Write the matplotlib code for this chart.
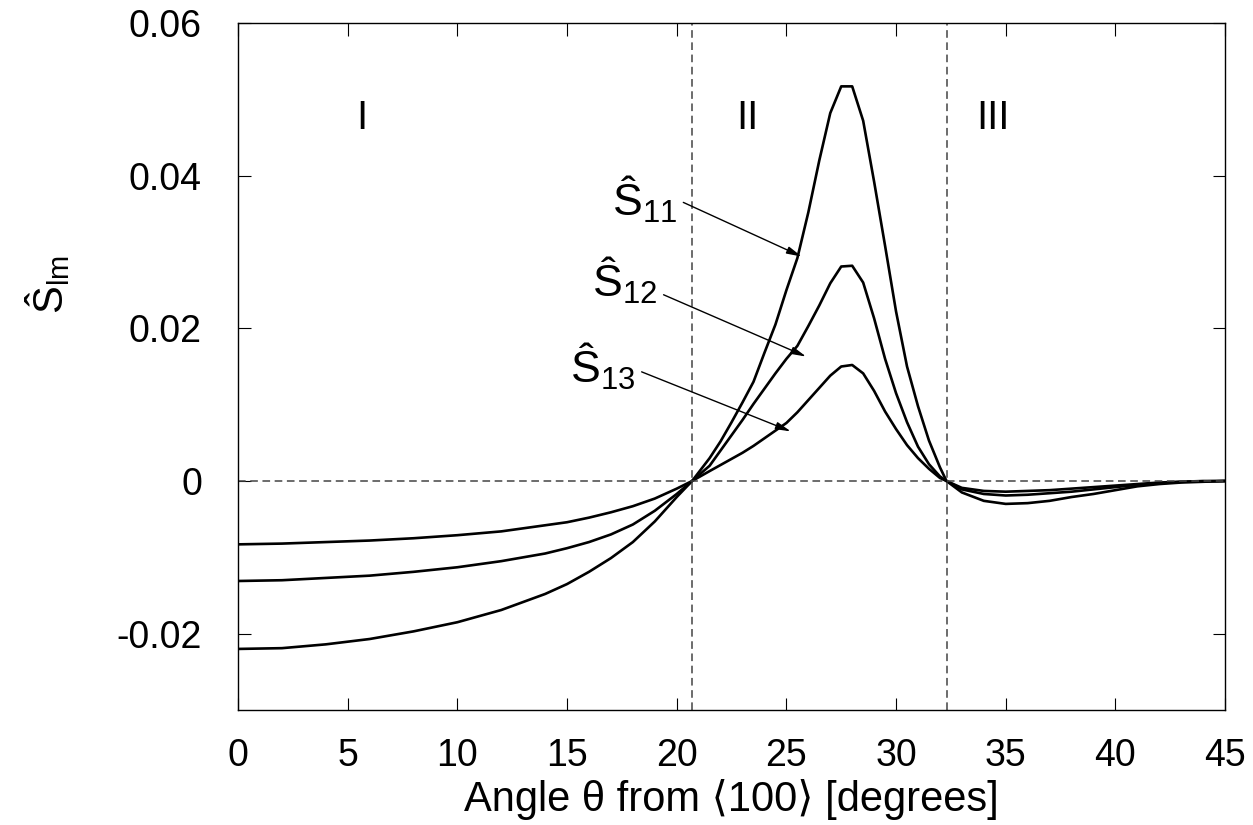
import matplotlib
matplotlib.use('Agg')
import matplotlib.pyplot as plt

plt.rcParams['font.family'] = ['Liberation Sans', 'DejaVu Sans']
plt.rcParams['mathtext.fontset'] = 'custom'
plt.rcParams['mathtext.rm'] = 'Liberation Sans'
plt.rcParams['mathtext.it'] = 'Liberation Sans'
plt.rcParams['mathtext.bf'] = 'Liberation Sans'

# angle from <100> in degrees
angle = [0, 2, 4, 6, 8, 10, 12, 14, 15, 16, 17, 18, 19, 20, 20.7,
         21.5, 22, 22.5, 23, 23.5, 24, 24.5, 25, 25.5, 26, 26.5, 27, 27.5,
         28, 28.5, 29, 29.5, 30, 30.5, 31, 31.5, 32, 32.3,
         33, 34, 35, 36, 37, 38, 39, 40, 41, 42, 43, 44, 45]

s11 = [-0.0220, -0.0219, -0.0214, -0.0207, -0.0197, -0.0185, -0.0169, -0.0148,
       -0.0135, -0.0119, -0.0101, -0.0080, -0.0053, -0.0021, 0.0,
       0.0030, 0.0052, 0.0077, 0.0103, 0.0130, 0.0168, 0.0205, 0.0250, 0.0292,
       0.0352, 0.0420, 0.0482, 0.0517, 0.0517, 0.0472, 0.0392, 0.0308, 0.0222,
       0.0150, 0.0098, 0.0053, 0.0018, 0.0,
       -0.0015, -0.0026, -0.0030, -0.0029, -0.0026, -0.0021, -0.0017, -0.0012,
       -0.0007, -0.0004, -0.0002, -0.0001, 0.0]

s12 = [-0.0131, -0.0130, -0.0127, -0.0124, -0.0119, -0.0113, -0.0105, -0.0095,
       -0.0088, -0.0080, -0.0070, -0.0057, -0.0039, -0.0017, 0.0,
       0.0020, 0.0040, 0.0060, 0.0080, 0.0101, 0.0121, 0.0141, 0.0160, 0.0177,
       0.0203, 0.0230, 0.0259, 0.0281, 0.0282, 0.0260, 0.0213, 0.0160, 0.0115,
       0.0077, 0.0045, 0.0022, 0.0006, 0.0,
       -0.0011, -0.0017, -0.0019, -0.0018, -0.0016, -0.0014, -0.0011, -0.0008,
       -0.0005, -0.0003, -0.0001, -0.00005, 0.0]

s13 = [-0.0083, -0.0082, -0.0080, -0.0078, -0.0075, -0.0071, -0.0066, -0.0058,
       -0.0054, -0.0048, -0.0041, -0.0033, -0.0023, -0.0010, 0.0,
       0.0013, 0.0021, 0.0029, 0.0037, 0.0046, 0.0056, 0.0066, 0.0076, 0.0090,
       0.0106, 0.0122, 0.0138, 0.0150, 0.0152, 0.0141, 0.0118, 0.0091, 0.0068,
       0.0047, 0.0030, 0.0016, 0.0004, 0.0,
       -0.0009, -0.0013, -0.0014, -0.0013, -0.0012, -0.0010, -0.0008, -0.0006,
       -0.0004, -0.0002, -0.0001, 0.0, 0.0]

boundaries = [20.7, 32.3]
regions = ['I', 'II', 'III']
region_x = [5.65, 23.2, 34.4]

labels = [r'$\mathrm{Ŝ}_{11}$', r'$\mathrm{Ŝ}_{12}$', r'$\mathrm{Ŝ}_{13}$']
label_xy = [(20.0, 0.0348), (19.1, 0.0241), (18.1, 0.0128)]
arrow_tip = [(25.7, 0.0294), (25.9, 0.0163), (25.2, 0.0065)]
arrow_tail = [(20.3, 0.0365), (19.4, 0.0244), (18.4, 0.0143)]

fig = plt.figure(figsize=(12.53, 8.25), dpi=100)
ax = fig.add_axes([0.19, 0.1394, 0.7877, 0.8327])

for series in (s11, s12, s13):
    ax.plot(angle, series, color='black', lw=1.9)

dash = (0, (5, 3))
ax.axhline(0, color='#444444', lw=1.1, ls=dash)
for b in boundaries:
    ax.axvline(b, color='#444444', lw=1.1, ls=dash)

for name, rx in zip(regions, region_x):
    ax.text(rx, 0.0475, name, fontsize=29, ha='center', va='center')

for lab, lxy, tip, tail in zip(labels, label_xy, arrow_tip, arrow_tail):
    ax.text(lxy[0], lxy[1], lab, fontsize=32, ha='right', va='baseline')
    ax.annotate('', xy=tip, xytext=tail,
                arrowprops=dict(arrowstyle='-|>,head_length=0.9,head_width=0.22',
                                color='black', lw=1.0, shrinkA=0, shrinkB=0))

ax.set_xlim(0, 45)
ax.set_ylim(-0.03, 0.06)
ax.set_xticks(range(0, 46, 5))
ax.set_yticks([-0.02, 0, 0.02, 0.04, 0.06])
ax.set_yticklabels(['-0.02', '0', '0.02', '0.04', '0.06'])
ax.tick_params(direction='in', length=9, width=0.8, top=True, right=True,
               labelsize=27)
ax.tick_params(axis='x', pad=20)
ax.tick_params(axis='y', pad=26)
for sp in ax.spines.values():
    sp.set_linewidth(1.0)

ax.set_xlabel('Angle θ from ⟨100⟩ [degrees]', fontsize=30, labelpad=4)
ax.set_ylabel(r'$\mathrm{Ŝ}_{\mathrm{lm}}$', fontsize=30)
ax.yaxis.set_label_coords(-0.168, 0.62)

fig.savefig('out.png', dpi=100)
